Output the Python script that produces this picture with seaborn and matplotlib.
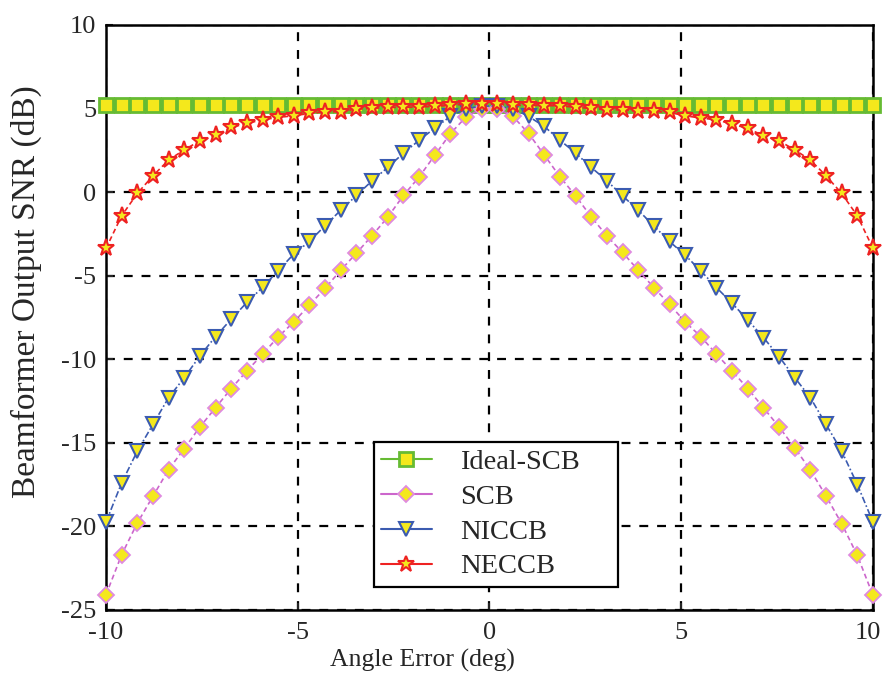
import numpy as np
import pandas as pd
import matplotlib
matplotlib.use("Agg")
import matplotlib.pyplot as plt
import matplotlib.transforms as mtransforms
import seaborn as sns
from matplotlib.lines import Line2D

angle = np.linspace(-10, 10, 50)

ideal_scb = [5.2] * 50

scb = [-24.1, -21.7, -19.8, -18.2, -16.6, -15.35, -14.05, -12.9, -11.75, -10.7,
       -9.7, -8.66, -7.77, -6.75, -5.75, -4.67, -3.65, -2.6, -1.5, -0.2,
       0.9, 2.2, 3.5, 4.5, 5.0,
       5.0, 4.53, 3.51, 2.22, 0.92, -0.22, -1.48, -2.62, -3.61, -4.67,
       -5.71, -6.71, -7.77, -8.64, -9.7, -10.7, -11.75, -12.9, -14.05, -15.3,
       -16.63, -18.18, -19.84, -21.74, -24.13]

niccb = [-19.75, -17.4, -15.5, -13.9, -12.3, -11.1, -9.8, -8.64, -7.6, -6.6,
         -5.7, -4.7, -3.7, -2.95, -2.0, -1.08, -0.2, 0.68, 1.48, 2.33,
         3.1, 3.83, 4.53, 5.0, 5.15,
         5.15, 5.0, 4.53, 3.93, 3.11, 2.34, 1.48, 0.68, -0.22, -1.08,
         -2.02, -2.95, -3.77, -4.71, -5.71, -6.65, -7.65, -8.7, -9.84, -11.1,
         -12.3, -13.9, -15.5, -17.5, -19.75]

neccb = [-3.37, -1.42, -0.08, 0.98, 1.92, 2.53, 3.07, 3.41, 3.87, 4.11,
         4.33, 4.47, 4.57, 4.71, 4.81, 4.81, 4.97, 5.01, 5.07, 5.07,
         5.1, 5.13, 5.2, 5.27, 5.27,
         5.27, 5.2, 5.2, 5.17, 5.17, 5.07, 5.01, 4.93, 4.93, 4.83,
         4.83, 4.77, 4.57, 4.43, 4.33, 4.07, 3.81, 3.38, 3.07, 2.53,
         1.92, 0.98, -0.08, -1.42, -3.37]

labels = ["Ideal-SCB", "SCB", "NICCB", "NECCB"]
x_ticks = [-10, -5, 0, 5, 10]
y_ticks = [-25, -20, -15, -10, -5, 0, 5, 10]

sns.set_style("ticks")
plt.rcParams['font.family'] = ['Liberation Serif', 'DejaVu Serif']

fig = plt.figure(figsize=(8.83, 6.83), dpi=100)
ax = fig.add_axes([0.12, 0.1069, 0.8687, 0.8565])

yellow = "#f4e81c"
styles = {
    "Ideal-SCB": dict(color="#66bb33", marker="s", markersize=10.5, mfc=yellow,
                      mec="#66bb33", mew=2.0, ls="-", lw=3.0),
    "SCB": dict(color="#cc66cc", marker="D", markersize=8.3, mfc=yellow,
                mec="#e08ae0", mew=1.3, ls=(0, (3, 2)), lw=1.2),
    "NICCB": dict(color="#3b5bb0", marker="v", markersize=10.5, mfc=yellow,
                  mec="#3b5bb0", mew=1.5, ls=(0, (4, 1.5, 1, 1.5)), lw=1.2),
    "NECCB": dict(color="#ee2222", marker="*", markersize=12.5, mfc=yellow,
                  mec="#ee2222", mew=1.5, ls=(0, (3, 2)), lw=1.2),
}

series = {"Ideal-SCB": ideal_scb, "SCB": scb, "NICCB": niccb, "NECCB": neccb}
df = pd.DataFrame({"angle": np.tile(angle, 4),
                   "snr": np.concatenate([series[k] for k in labels]),
                   "method": np.repeat(labels, len(angle))})

for i, name in enumerate(labels):
    st = styles[name]
    sub = df[df["method"] == name]
    sns.lineplot(data=sub, x="angle", y="snr", ax=ax, color=st["color"],
                 marker=st["marker"], markersize=st["markersize"],
                 markerfacecolor=st["mfc"], markeredgecolor=st["mec"],
                 markeredgewidth=st["mew"], linestyle=st["ls"], linewidth=st["lw"],
                 legend=False, zorder=3 + i, clip_on=False)

ax.set_xlim(-10, 10)
ax.set_ylim(-25, 10)
ax.set_xticks(x_ticks)
ax.set_yticks(y_ticks)
ax.set_xticklabels([str(v) for v in x_ticks])
ax.set_yticklabels([str(v) for v in y_ticks])
ax.grid(True, color="black", linestyle=(0, (4, 4)), linewidth=1.6)
ax.tick_params(direction="in", length=5, width=1.5, labelsize=19)
ax.tick_params(axis="x", pad=9)
ax.tick_params(axis="y", pad=7)
for s in ax.spines.values():
    s.set_linewidth(1.8)
    s.set_color("black")
    s.set_visible(True)

# nudge the last x tick label left so it stays inside the figure
last = ax.xaxis.get_major_ticks()[-1].label1
last.set_transform(last.get_transform() +
                   mtransforms.ScaledTranslation(-5 / 100, 0, fig.dpi_scale_trans))

ax.set_xlabel("Angle Error (deg)", fontsize=18.5)
ax.xaxis.set_label_coords(0.413, -0.066)
ax.set_ylabel("Beamformer Output SNR (dB)", fontsize=24)
ax.yaxis.set_label_coords(-0.084, 0.545)

handles = []
for name in labels:
    st = styles[name]
    handles.append(Line2D([0], [0], color=st["color"], marker=st["marker"],
                          markersize=st["markersize"] * 0.95, markerfacecolor=st["mfc"],
                          markeredgecolor=st["mec"], markeredgewidth=st["mew"],
                          linestyle="-", linewidth=1.5))
leg = ax.legend(handles, labels, loc="lower left",
                bbox_to_anchor=(0.349, 0.04, 0.318, 0.248), mode="expand",
                fontsize=20.5, frameon=True, fancybox=False, framealpha=1,
                edgecolor="black", handlelength=1.8, borderpad=0.25,
                labelspacing=0.31, handletextpad=1.0, borderaxespad=0)
leg.get_frame().set_linewidth(1.6)
leg.set_zorder(10)

fig.savefig("out.png", dpi=100)
